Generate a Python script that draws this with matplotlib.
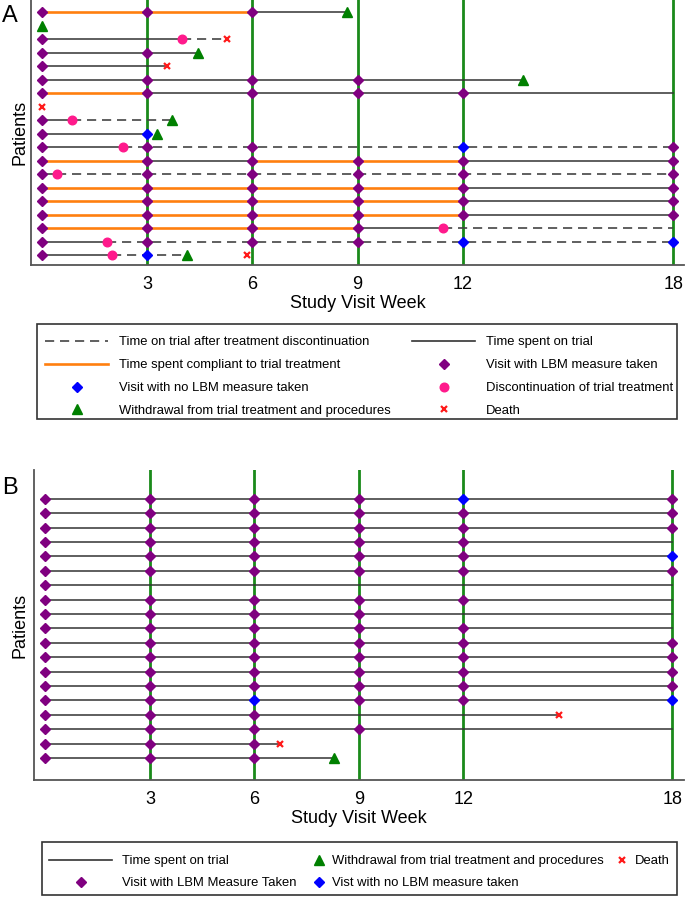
import matplotlib
matplotlib.use('Agg')
import matplotlib.pyplot as plt
from matplotlib.lines import Line2D
from matplotlib.patches import Rectangle

plt.rcParams['font.family'] = ['Liberation Sans', 'DejaVu Sans']

# study visit weeks with a scheduled visit
visit_weeks = [3, 6, 9, 12, 18]

# ---- panel A: one entry per patient, listed top to bottom ----
a_solid = [[(6, 8.69)], [], [(0, 4.0)], [(0, 4.44)], [(0, 3.58)], [(0, 13.71)],
           [(3, 18)], [], [(0, 0.87)], [(0, 3.0)], [(0, 2.3)], [(3, 6), (12, 18)],
           [(0, 0.44)], [(12, 18)], [(12, 18)], [(12, 18)], [(9, 11.43)],
           [(0, 1.86)], [(0, 2.0)]]
a_compliant = [[(0, 6)], [], [], [], [], [], [(0, 3)], [], [], [], [],
               [(0, 3), (6, 12)], [], [(0, 12)], [(0, 12)], [(0, 12)], [(0, 9)],
               [], []]
a_dashed = [[], [], [(4.0, 5.29)], [], [], [], [], [], [(0.87, 3.71)], [],
            [(2.3, 18)], [], [(0.44, 18)], [], [], [], [(11.43, 18)],
            [(1.86, 18)], [(2.0, 4.14)]]
a_lbm = [[0, 3, 6], [], [0], [0, 3], [0], [0, 3, 6, 9], [0, 3, 6, 9, 12], [],
         [0], [0], [0, 3, 6, 18], [0, 3, 6, 9, 12, 18], [0, 3, 6, 9, 12, 18],
         [0, 3, 6, 9, 12, 18], [0, 3, 6, 9, 12, 18], [0, 3, 6, 9, 12, 18],
         [0, 3, 6, 9], [0, 3, 6, 9], [0]]
a_no_lbm = [[], [], [], [], [], [], [], [], [], [3], [12], [], [], [], [], [],
            [], [12, 18], [3]]
a_discont = [None, None, 4.0, None, None, None, None, None, 0.87, None, 2.3,
             None, 0.44, None, None, None, 11.43, 1.86, 2.0]
a_withdraw = [8.69, 0, None, 4.44, None, 13.71, None, None, 3.71, 3.29, None,
              None, None, None, None, None, None, None, 4.14]
a_death = [None, None, 5.29, None, 3.58, None, None, 0, None, None, None,
           None, None, None, None, None, None, None, 5.86]

# ---- panel B ----
b_end = [18, 18, 18, 18, 18, 18, 18, 18, 18, 18, 18, 18, 18, 18, 18, 14.75,
         18, 6.74, 8.3]
b_lbm = [[0, 3, 6, 9, 18], [0, 3, 6, 9, 12, 18], [0, 3, 6, 9, 12, 18],
         [0, 3, 6, 9, 12], [0, 3, 6, 9, 12], [0, 3, 6, 9, 12, 18], [0],
         [0, 3, 6, 9, 12], [0, 3, 6, 9], [0, 3, 6, 9, 12],
         [0, 3, 6, 9, 12, 18], [0, 3, 6, 9, 12, 18], [0, 3, 6, 9, 12, 18],
         [0, 3, 6, 9, 12, 18], [0, 3, 9, 12], [0, 3, 6], [0, 3, 6, 9],
         [0, 3, 6], [0, 3, 6]]
b_no_lbm = [[12], [], [], [], [18], [], [], [], [], [], [], [], [], [],
            [6, 18], [], [], [], []]
b_withdraw = [None] * 18 + [8.3]
b_death = [None] * 15 + [14.75, None, 6.74, None]

# colours
c_line = '#333333'
c_dash = '#444444'
c_orange = '#ff7f0e'
c_purple = '#800080'
c_blue = '#0000ff'
c_pink = '#ff1a8c'
c_green = '#1a8a1a'
c_tri = '#008000'
c_red = '#ff1a1a'
c_spine = '#555555'

W, H = 685, 897
fig = plt.figure(figsize=(W / 100, H / 100), dpi=100)


def px_axes(left, right, top, bottom):
    return fig.add_axes([left / W, 1 - bottom / H, (right - left) / W, (bottom - top) / H])


def style_axes(ax, xlim, ylim, ylabelpad):
    ax.set_xlim(*xlim)
    ax.set_ylim(*ylim)
    for s in ['top', 'right']:
        ax.spines[s].set_visible(False)
    for s in ['left', 'bottom']:
        ax.spines[s].set_color(c_spine)
        ax.spines[s].set_linewidth(1.3)
    ax.set_yticks([])
    ax.set_xticks(visit_weeks)
    ax.set_xticklabels([str(w) for w in visit_weeks])
    ax.tick_params(axis='x', length=0, pad=8, labelsize=13)
    ax.set_xlabel('Study Visit Week', fontsize=13, labelpad=1)
    ax.set_ylabel('Patients', fontsize=13, labelpad=ylabelpad)
    for w in visit_weeks:
        ax.axvline(w, color=c_green, lw=2, zorder=1)


def segs(ax, rows, **kw):
    n = len(rows)
    for i, row in enumerate(rows):
        for x0, x1 in row:
            ax.plot([x0, x1], [n - i, n - i], zorder=2, **kw)


def marks(ax, rows, **kw):
    n = len(rows)
    for i, row in enumerate(rows):
        if row is None:
            continue
        xs = row if isinstance(row, list) else [row]
        if xs:
            ax.plot(xs, [n - i] * len(xs), ls='none', zorder=3, **kw)


# ---------------- panel A ----------------
axA = px_axes(31, 684, 0, 265)
style_axes(axA, (-0.31, 18.31), (0.26, 19.89), 2)
segs(axA, a_solid, color=c_line, lw=1.1)
segs(axA, a_compliant, color=c_orange, lw=1.9)
segs(axA, a_dashed, color=c_dash, lw=1.2, ls=(0, (5.5, 3.5)))
marks(axA, a_lbm, marker='D', ms=4.8, color=c_purple)
marks(axA, a_no_lbm, marker='D', ms=4.8, color=c_blue)
marks(axA, a_discont, marker='o', ms=6.2, color=c_pink)
marks(axA, a_withdraw, marker='^', ms=6.5, color=c_tri)
marks(axA, a_death, marker='x', ms=4, mew=1.6, color=c_red)

# ---------------- panel B ----------------
axB = px_axes(34, 684, 470, 780)
style_axes(axB, (-0.33, 18.34), (-0.53, 21.01), 4)
segs(axB, [[(0, e)] for e in b_end], color=c_line, lw=1.1)
marks(axB, b_lbm, marker='D', ms=4.9, color=c_purple)
marks(axB, b_no_lbm, marker='D', ms=4.9, color=c_blue)
marks(axB, b_withdraw, marker='^', ms=7, color=c_tri)
marks(axB, b_death, marker='x', ms=4, mew=1.6, color=c_red)

fig.text(2 / W, 1 - 16 / H, 'A', fontsize=17, va='center', ha='left')
fig.text(2 / W, 1 - 488 / H, 'B', fontsize=17, va='center', ha='left')

# ---------------- legends ----------------
h_dash = Line2D([], [], color=c_dash, lw=1.2, ls=(0, (5.5, 3.5)))
h_solid = Line2D([], [], color=c_line, lw=1.2)
h_orange = Line2D([], [], color=c_orange, lw=1.9)
h_purple = Line2D([], [], ls='none', marker='D', ms=4.8, color=c_purple)
h_blue = Line2D([], [], ls='none', marker='D', ms=4.8, color=c_blue)
h_pink = Line2D([], [], ls='none', marker='o', ms=6.2, color=c_pink)
h_tri = Line2D([], [], ls='none', marker='^', ms=6.5, color=c_tri)
h_x = Line2D([], [], ls='none', marker='x', ms=4, mew=1.6, color=c_red)

LFS = 9.4


def column(handles, labels, x_px, y_px, hlen_px, pad_px, spacing):
    leg = fig.legend(handles, labels, loc='upper left',
                     bbox_to_anchor=(x_px / W, 1 - y_px / H),
                     frameon=False, fontsize=LFS, borderpad=0, borderaxespad=0,
                     handlelength=hlen_px * 0.72 / LFS,
                     handletextpad=pad_px * 0.72 / LFS,
                     labelspacing=spacing)
    return leg


def frame(x0, x1, y0, y1):
    fig.add_artist(Rectangle((x0 / W, 1 - y1 / H), (x1 - x0) / W, (y1 - y0) / H,
                             transform=fig.transFigure, fill=False,
                             edgecolor='#333333', lw=1.2))


frame(37, 677, 324, 419)
column([h_dash, h_orange, h_blue, h_tri],
       ['Time on trial after treatment discontinuation',
        'Time spent compliant to trial treatment',
        'Visit with no LBM measure taken',
        'Withdrawal from trial treatment and procedures'],
       45, 336, 63, 11, 0.83)
column([h_solid, h_purple, h_pink, h_x],
       ['Time spent on trial', 'Visit with LBM measure taken',
        'Discontinuation of trial treatment', 'Death'],
       412, 336, 63, 11, 0.83)

frame(42, 677, 842, 895)
hB_purple = Line2D([], [], ls='none', marker='D', ms=4.9, color=c_purple)
hB_blue = Line2D([], [], ls='none', marker='D', ms=4.9, color=c_blue)
column([h_solid, hB_purple],
       ['Time spent on trial', 'Visit with LBM Measure Taken'],
       49, 855, 63, 10, 0.78)
column([h_tri, hB_blue],
       ['Withdrawal from trial treatment and procedures',
        'Vist with no LBM measure taken'],
       314, 855, 10, 8, 0.78)
column([h_x], ['Death'], 617, 855, 10, 8, 0.78)

fig.savefig('out.png', dpi=100)
